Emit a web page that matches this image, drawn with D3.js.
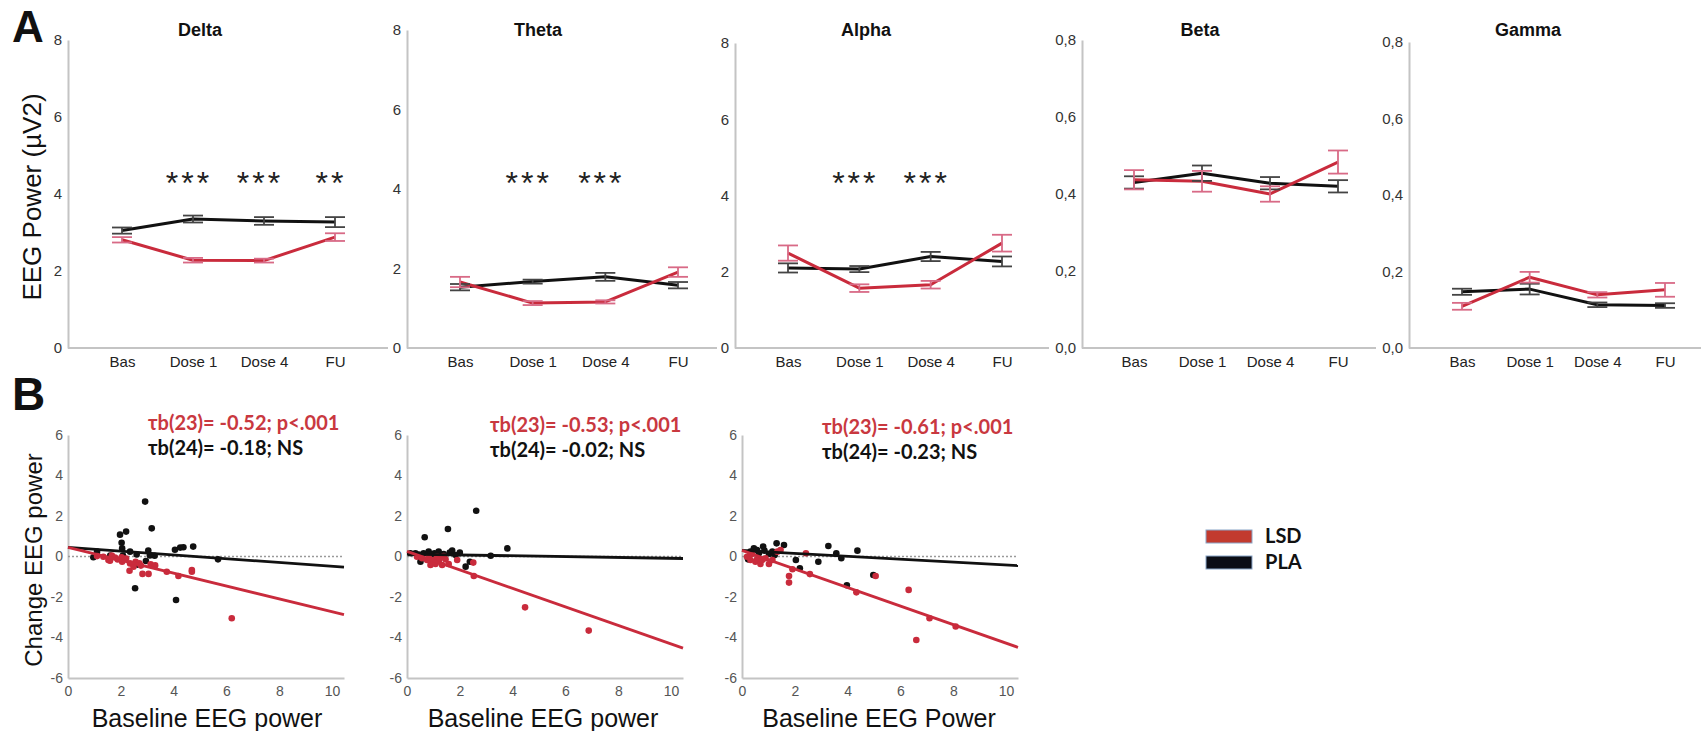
<!DOCTYPE html>
<html>
<head>
<meta charset="utf-8">
<script src="https://cdn.jsdelivr.net/npm/d3@7"></script>
<style>
  body { margin: 0; background: #fff; }
  svg { display: block; font-family: "Liberation Sans", Arial, sans-serif; }
</style>
</head>
<body>
<script>
// ---- data ----
const phases = ["Bas", "Dose 1", "Dose 4", "FU"];
const bands = ["Delta", "Theta", "Alpha", "Beta", "Gamma"];

// panel A: mean EEG power and error bars
const deltaPla = [3.05, 3.35, 3.30, 3.27];
const deltaPlaErr = [0.08, 0.09, 0.10, 0.13];
const deltaLsd = [2.81, 2.28, 2.27, 2.88];
const deltaLsdErr = [0.07, 0.06, 0.05, 0.10];

const thetaPla = [1.53, 1.67, 1.79, 1.58];
const thetaPlaErr = [0.08, 0.05, 0.10, 0.08];
const thetaLsd = [1.66, 1.13, 1.16, 1.91];
const thetaLsdErr = [0.13, 0.05, 0.04, 0.12];

const alphaPla = [2.10, 2.07, 2.40, 2.27];
const alphaPlaErr = [0.12, 0.08, 0.12, 0.13];
const alphaLsd = [2.49, 1.57, 1.66, 2.75];
const alphaLsdErr = [0.20, 0.10, 0.10, 0.22];

const betaPla = [0.430, 0.454, 0.428, 0.420];
const betaPlaErr = [0.016, 0.020, 0.016, 0.016];
const betaLsd = [0.437, 0.433, 0.400, 0.483];
const betaLsdErr = [0.025, 0.027, 0.020, 0.030];

const gammaPla = [0.147, 0.154, 0.113, 0.111];
const gammaPlaErr = [0.008, 0.014, 0.006, 0.006];
const gammaLsd = [0.109, 0.185, 0.139, 0.152];
const gammaLsdErr = [0.009, 0.014, 0.007, 0.018];

const deltaSig = ["", "***", "***", "**"];
const thetaSig = ["", "***", "***", ""];
const alphaSig = ["", "***", "***", ""];
const betaSig = ["", "", "", ""];
const gammaSig = ["", "", "", ""];

const lowTicks = [0, 2, 4, 6, 8];
const highTicks = [0, 0.2, 0.4, 0.6, 0.8];

// panel B: baseline power vs change, per subject
const deltaPlaPts = [[0.96,-0.04],[1.1,0.24],[1.97,1.08],[2.2,1.23],[2.03,0.68],[2.05,0.4],[2.08,0.05],[2.35,0.24],[2.54,-1.57],[2.63,-0.4],[2.92,2.71],[2.95,-0.22],[3.04,0.3],[3.17,1.39],[3.28,0.04],[4.05,0.33],[4.09,-2.15],[4.25,0.44],[4.37,0.46],[4.74,0.49],[5.68,-0.14],[2.6,0.1],[3.1,0.05],[1.6,0.05]];
const deltaLsdPts = [[1.1,0.02],[1.34,-0.01],[1.53,-0.17],[1.66,0.05],[1.78,-0.05],[1.59,-0.21],[1.88,-0.15],[2.03,-0.04],[2.05,-0.26],[2.2,-0.1],[2.35,-0.34],[2.33,-0.7],[2.48,-0.5],[2.56,-0.26],[2.7,-0.34],[2.76,-0.45],[2.82,-0.86],[3.05,-0.86],[3.13,-0.39],[3.3,-0.44],[3.74,-0.75],[4.18,-0.96],[4.69,-0.67],[4.69,-0.75],[6.2,-3.05]];

const thetaPlaPts = [[0.13,0.16],[0.32,0.16],[0.45,0.1],[0.51,-0.26],[0.63,0.16],[0.67,0.95],[0.82,0.24],[0.89,0.11],[1.04,0.16],[1.1,0.05],[1.2,0.24],[1.39,0.12],[1.55,1.36],[1.62,0.19],[1.71,0.29],[1.84,0.07],[2.0,0.19],[2.22,-0.5],[2.38,-0.26],[2.62,2.26],[3.17,0.04],[3.8,0.4]];
const thetaLsdPts = [[0.38,-0.01],[0.57,-0.09],[0.76,-0.17],[0.82,-0.04],[0.89,-0.42],[0.95,-0.3],[1.01,-0.17],[1.08,-0.37],[1.14,0.0],[1.2,-0.25],[1.24,-0.11],[1.33,-0.42],[1.39,0.02],[1.46,-0.14],[1.58,-0.37],[1.9,-0.17],[2.51,-0.3],[2.53,-0.96],[4.47,-2.51],[6.88,-3.66]];

const alphaPlaPts = [[0.23,-0.14],[0.32,0.24],[0.45,0.4],[0.57,0.32],[0.64,0.16],[0.8,0.49],[0.85,0.29],[1.02,0.12],[1.15,0.24],[1.24,0.07],[1.31,0.65],[1.59,0.57],[2.04,-0.17],[2.19,-0.58],[2.89,-0.26],[3.27,0.52],[3.57,0.16],[3.76,-0.09],[3.97,-1.42],[4.37,0.29],[4.97,-0.91]];
const alphaLsdPts = [[0.19,-0.01],[0.32,-0.17],[0.38,0.12],[0.51,-0.26],[0.57,-0.14],[0.7,-0.37],[0.76,-0.17],[0.89,-0.09],[1.02,-0.37],[1.15,-0.17],[1.34,0.24],[1.46,0.32],[1.78,-0.96],[1.78,-1.29],[1.91,-0.63],[2.42,0.16],[2.57,-0.87],[4.33,-1.77],[5.06,-0.96],[6.31,-1.65],[6.6,-4.12],[7.1,-3.05],[8.09,-3.46]];

// regression lines: [intercept, slope]
const deltaPlaFit = [0.45, -0.093];
const deltaLsdFit = [0.45, -0.318];
const thetaPlaFit = [0.12, -0.021];
const thetaLsdFit = [0.25, -0.457];
const alphaPlaFit = [0.30, -0.072];
const alphaLsdFit = [0.30, -0.458];

const lsdStats = ["τb(23)= -0.52; p<.001", "τb(23)= -0.53; p<.001", "τb(23)= -0.61; p<.001"];
const plaStats = ["τb(24)= -0.18; NS", "τb(24)= -0.02; NS", "τb(24)= -0.23; NS"];
const scatterXTitles = ["Baseline EEG power", "Baseline EEG power", "Baseline EEG Power"];
const changeTicks = [-6, -4, -2, 0, 2, 4, 6];
const baseTicks = [0, 2, 4, 6, 8, 10];

const groups = ["LSD", "PLA"];

// ---- styling ----
const RED = "#c92b3c", RED_ERR = "#d86a86", BLACK = "#111", BLACK_ERR = "#444";
const AXIS = "#c4c4c4", TICK_TXT = "#333";
const CAL = "Lato, 'Liberation Sans', sans-serif";

const svg = d3.select("body").append("svg").attr("width", 1701).attr("height", 731);
svg.append("rect").attr("width", 1701).attr("height", 731).attr("fill", "#fff");

// ---- panel A ----
const bandSets = [
  {pla: deltaPla, plaErr: deltaPlaErr, lsd: deltaLsd, lsdErr: deltaLsdErr, sig: deltaSig, ticks: lowTicks},
  {pla: thetaPla, plaErr: thetaPlaErr, lsd: thetaLsd, lsdErr: thetaLsdErr, sig: thetaSig, ticks: lowTicks},
  {pla: alphaPla, plaErr: alphaPlaErr, lsd: alphaLsd, lsdErr: alphaLsdErr, sig: alphaSig, ticks: lowTicks},
  {pla: betaPla, plaErr: betaPlaErr, lsd: betaLsd, lsdErr: betaLsdErr, sig: betaSig, ticks: highTicks},
  {pla: gammaPla, plaErr: gammaPlaErr, lsd: gammaLsd, lsdErr: gammaLsdErr, sig: gammaSig, ticks: highTicks}
];
const bandLayout = [
  {axisX: 68, top: 40, end: 388, c0: 122, c1: 335, titleX: 200},
  {axisX: 407, top: 30, end: 717, c0: 460, c1: 678, titleX: 538},
  {axisX: 735, top: 43, end: 1049, c0: 788, c1: 1002, titleX: 866},
  {axisX: 1082, top: 40, end: 1376, c0: 1134, c1: 1338, titleX: 1200},
  {axisX: 1409, top: 42, end: 1701, c0: 1462, c1: 1665, titleX: 1528}
];
const baseA = 348;

bands.forEach((band, b) => {
  const L = bandLayout[b], D = bandSets[b];
  const g = svg.append("g");
  const yMax = d3.max(D.ticks);
  const y = d3.scaleLinear().domain([0, yMax]).range([baseA, L.top]);
  const x = d3.scalePoint().domain(phases).range([L.c0, L.c1]);
  const fmt = yMax < 1 ? (d => d.toFixed(1).replace(".", ",")) : (d => String(d));

  // x axis line
  g.append("line").attr("x1", L.axisX).attr("x2", L.end).attr("y1", baseA).attr("y2", baseA)
    .attr("stroke", AXIS).attr("stroke-width", 2);

  const ya = g.append("g").attr("transform", `translate(${L.axisX},0)`)
    .call(d3.axisLeft(y).tickValues(D.ticks).tickFormat(fmt).tickSize(0).tickPadding(6));
  ya.select(".domain").attr("stroke", AXIS).attr("stroke-width", 2);
  ya.selectAll("text").attr("font-size", 15).attr("fill", TICK_TXT).attr("font-family", "Liberation Sans, Arial");

  const xa = g.append("g").attr("transform", `translate(0,${baseA})`)
    .call(d3.axisBottom(x).tickSize(0).tickPadding(8));
  xa.select(".domain").remove();
  xa.selectAll("text").attr("font-size", 15).attr("fill", "#222")
    .attr("font-family", "'Liberation Sans Narrow', 'Liberation Sans', Arial");

  g.append("text").attr("x", L.titleX).attr("y", 36).attr("text-anchor", "middle")
    .attr("font-size", 18).attr("font-weight", "bold").attr("fill", "#111").text(band);

  const line = d3.line().x((d, i) => x(phases[i])).y(d => y(d));
  const series = [
    {vals: D.pla, err: D.plaErr, col: BLACK, ecol: BLACK_ERR},
    {vals: D.lsd, err: D.lsdErr, col: RED, ecol: RED_ERR}
  ];
  series.forEach(s => {
    g.append("path").attr("d", line(s.vals)).attr("fill", "none")
      .attr("stroke", s.col).attr("stroke-width", 3).attr("stroke-linejoin", "round");
  });
  series.forEach(s => {
    const eb = g.append("g").attr("stroke", s.ecol).attr("stroke-width", 1.8);
    s.vals.forEach((v, i) => {
      const cx = x(phases[i]), lo = y(v - s.err[i]), hi = y(v + s.err[i]);
      eb.append("line").attr("x1", cx).attr("x2", cx).attr("y1", lo).attr("y2", hi);
      eb.append("line").attr("x1", cx - 10).attr("x2", cx + 10).attr("y1", lo).attr("y2", lo);
      eb.append("line").attr("x1", cx - 10).attr("x2", cx + 10).attr("y1", hi).attr("y2", hi);
    });
  });

  g.selectAll(".sig").data(D.sig).join("text").attr("class", "sig")
    .attr("x", (d, i) => x(phases[i]) - 4).attr("y", 194)
    .attr("text-anchor", "middle").attr("font-size", 32).attr("letter-spacing", 3)
    .attr("fill", "#222").text(d => d);
});

svg.append("text").attr("x", 12).attr("y", 42).attr("font-size", 44).attr("font-weight", "bold")
  .attr("fill", "#111").text("A");
svg.append("text").attr("transform", "translate(41,197) rotate(-90)").attr("text-anchor", "middle")
  .attr("font-size", 26).attr("fill", "#111").text("EEG Power (µV2)");

// ---- panel B ----
const scatterSets = [
  {pla: deltaPlaPts, lsd: deltaLsdPts, plaFit: deltaPlaFit, lsdFit: deltaLsdFit},
  {pla: thetaPlaPts, lsd: thetaLsdPts, plaFit: thetaPlaFit, lsdFit: thetaLsdFit},
  {pla: alphaPlaPts, lsd: alphaLsdPts, plaFit: alphaPlaFit, lsdFit: alphaLsdFit}
];
const scatterLayout = [
  {x0: 68, statX: 148, statY: 423, titleX: 207},
  {x0: 407, statX: 490, statY: 425, titleX: 543},
  {x0: 742, statX: 822, statY: 427, titleX: 879}
];
const bTop = 435, bBot = 678, xMaxB = 10.45;

scatterSets.forEach((S, k) => {
  const L = scatterLayout[k];
  const g = svg.append("g");
  const x = d3.scaleLinear().domain([0, xMaxB]).range([L.x0, L.x0 + 276]);
  const y = d3.scaleLinear().domain([-6, 6]).range([bBot, bTop]);

  const xa = g.append("g").attr("transform", `translate(0,${bBot})`)
    .call(d3.axisBottom(x).tickValues(baseTicks).tickFormat(d => String(d)).tickSize(0).tickPadding(8).tickSizeOuter(0));
  xa.select(".domain").attr("stroke", AXIS).attr("stroke-width", 2);
  xa.selectAll("text").attr("font-size", 14).attr("fill", "#555");

  const ya = g.append("g").attr("transform", `translate(${L.x0},0)`)
    .call(d3.axisLeft(y).tickValues(changeTicks).tickFormat(d => String(d)).tickSize(0).tickPadding(5).tickSizeOuter(0));
  ya.select(".domain").attr("stroke", AXIS).attr("stroke-width", 2);
  ya.selectAll("text").attr("font-size", 14).attr("fill", "#555");

  // zero reference
  g.append("line").attr("x1", x(0)).attr("x2", x(xMaxB)).attr("y1", y(0)).attr("y2", y(0))
    .attr("stroke", "#9a9a9a").attr("stroke-width", 1.3).attr("stroke-dasharray", "2,2");

  const pts = [{d: S.pla, col: BLACK}, {d: S.lsd, col: RED}];
  pts.forEach(p => {
    g.append("g").selectAll("circle").data(p.d).join("circle")
      .attr("cx", d => x(d[0])).attr("cy", d => y(d[1])).attr("r", 3.3).attr("fill", p.col);
  });
  const fits = [{f: S.plaFit, col: BLACK}, {f: S.lsdFit, col: RED}];
  fits.forEach(p => {
    const ends = [0, xMaxB].map(v => [x(v), y(p.f[0] + p.f[1] * v)]);
    g.append("path").attr("d", d3.line()(ends)).attr("stroke", p.col).attr("stroke-width", 2.8).attr("fill", "none");
  });

  g.append("text").attr("x", L.statX).attr("y", L.statY + 7).attr("font-family", CAL)
    .attr("font-size", 20).attr("font-weight", "bold").attr("fill", "#c9383f").text(lsdStats[k]);
  g.append("text").attr("x", L.statX).attr("y", L.statY + 32).attr("font-family", CAL)
    .attr("font-size", 20).attr("font-weight", "bold").attr("fill", "#111").text(plaStats[k]);

  g.append("text").attr("x", L.titleX).attr("y", 727).attr("text-anchor", "middle")
    .attr("font-size", 25).attr("fill", "#111").text(scatterXTitles[k]);
});

svg.append("text").attr("x", 12).attr("y", 410).attr("font-size", 46).attr("font-weight", "bold")
  .attr("fill", "#111").text("B");
svg.append("text").attr("transform", "translate(42,560) rotate(-90)").attr("text-anchor", "middle")
  .attr("font-size", 24).attr("fill", "#111").text("Change EEG power");

// ---- legend ----
const legendFill = {LSD: "#c23a2e", PLA: "#0b0d16"};
const leg = svg.append("g").attr("transform", "translate(1206,530)");
leg.selectAll("rect").data(groups).join("rect")
  .attr("x", 0).attr("y", (d, i) => i * 26).attr("width", 46).attr("height", 13)
  .attr("fill", d => legendFill[d]).attr("stroke", "#8aa6c8").attr("stroke-width", 1);
leg.selectAll("text").data(groups).join("text")
  .attr("x", 59).attr("y", (d, i) => i * 26 + 13).attr("font-family", CAL)
  .attr("font-size", 20).attr("font-weight", "bold").attr("fill", "#111").text(d => d);
</script>
</body>
</html>
